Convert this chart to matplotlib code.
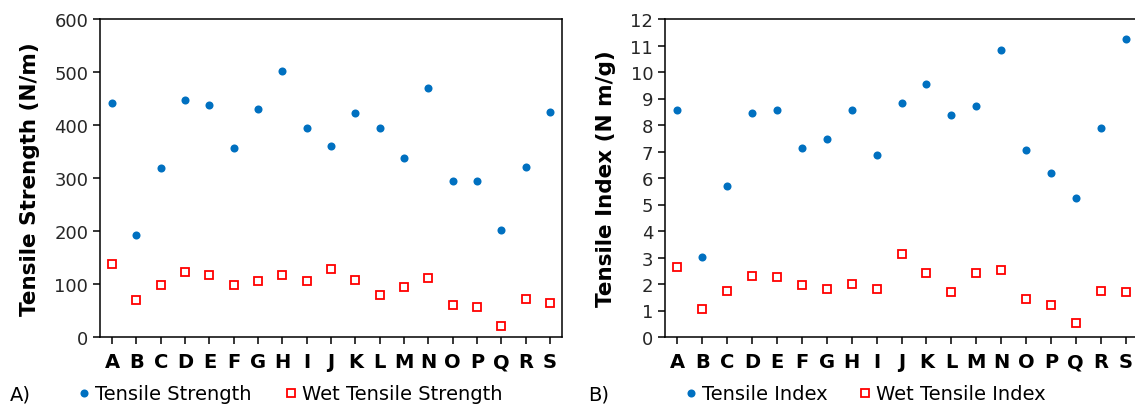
import matplotlib.pyplot as plt

categories = list("ABCDEFGHIJKLMNOPQRS")

tensile_strength = [442, 192, 318, 447, 438, 357, 431, 502, 394, 360,
                    423, 395, 338, 469, 294, 294, 201, 321, 425]
wet_tensile_strength = [137, 69, 98, 123, 117, 99, 106, 117, 105, 129,
                        108, 80, 94, 111, 60, 57, 21, 72, 65]

tensile_index = [8.57, 3.02, 5.69, 8.47, 8.57, 7.14, 7.49, 8.55, 6.85, 8.82,
                 9.53, 8.36, 8.71, 10.83, 7.07, 6.18, 5.26, 7.89, 11.25]
wet_tensile_index = [2.65, 1.05, 1.73, 2.32, 2.27, 1.97, 1.83, 2.00, 1.83, 3.14,
                     2.40, 1.69, 2.42, 2.54, 1.44, 1.20, 0.53, 1.73, 1.69]

BLUE = '#0070C0'
RED = '#FF0000'

plt.rcParams['font.family'] = ['DejaVu Sans']

fig = plt.figure(figsize=(11.35, 4.1), dpi=100)
ax1 = fig.add_axes([100 / 1135, 72 / 410, 462 / 1135, 318 / 410])
ax2 = fig.add_axes([665 / 1135, 72 / 410, 473 / 1135, 318 / 410])


def draw_panel(ax, dry, wet, dry_label, wet_label, ylabel, ymax, ystep):
    x = range(len(categories))
    ax.plot(x, dry, 'o', color=BLUE, markersize=5.8, markeredgewidth=0, label=dry_label)
    ax.plot(x, wet, 's', color=RED, markerfacecolor='white', markersize=5.4,
            markeredgewidth=1.3, label=wet_label)
    ax.set_xlim(-0.5, len(categories) - 0.5)
    ax.set_ylim(0, ymax)
    ax.set_yticks(range(0, ymax + 1, ystep))
    ax.set_xticks(list(x))
    ax.set_xticklabels(categories, fontsize=14, fontweight='bold')
    ax.tick_params(axis='y', labelsize=13, length=5, width=1.1, direction='out',
                   labelcolor='#262626')
    ax.tick_params(axis='x', length=5, width=1.1, direction='out', pad=6)
    for s in ax.spines.values():
        s.set_linewidth(1.1)
    ax.set_ylabel(ylabel, fontsize=15.5, fontweight='bold', labelpad=10)


draw_panel(ax1, tensile_strength, wet_tensile_strength,
           'Tensile Strength', 'Wet Tensile Strength',
           'Tensile Strength (N/m)', 600, 100)
draw_panel(ax2, tensile_index, wet_tensile_index,
           'Tensile Index', 'Wet Tensile Index',
           'Tensile Index (N m/g)', 12, 1)

ax1.legend(loc='center left', bbox_to_anchor=(68 / 1135, 15 / 410),
           bbox_transform=fig.transFigure, ncol=2, frameon=False, fontsize=14,
           handlelength=0.6, handletextpad=0.3, columnspacing=1.7, borderpad=0)
ax2.legend(loc='center left', bbox_to_anchor=(675 / 1135, 15 / 410),
           bbox_transform=fig.transFigure, ncol=2, frameon=False, fontsize=14,
           handlelength=0.6, handletextpad=0.3, columnspacing=1.6, borderpad=0)

fig.text(10 / 1135, 15 / 410, 'A)', fontsize=14, va='center')
fig.text(588 / 1135, 15 / 410, 'B)', fontsize=14, va='center')

fig.savefig('out.png', dpi=100)
